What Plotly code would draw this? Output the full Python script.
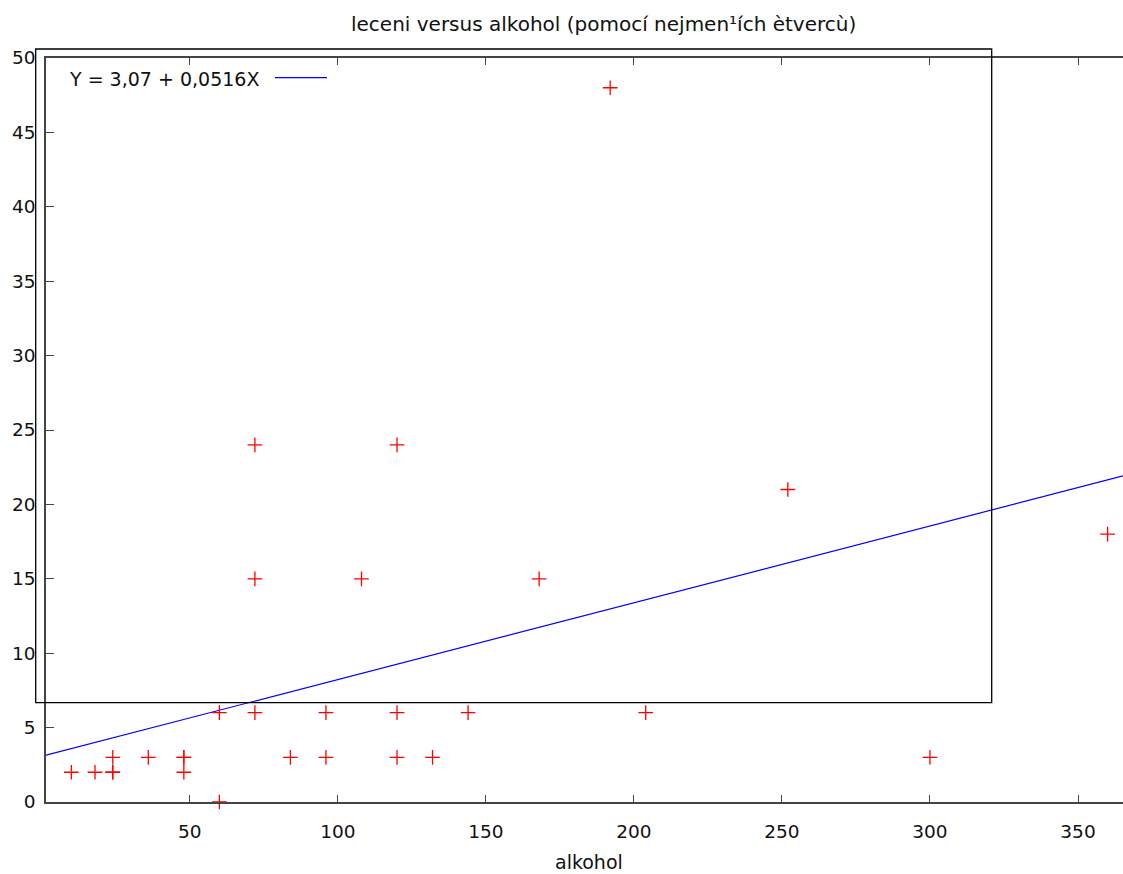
import plotly.graph_objects as go

# data
alkohol = [10, 18, 24, 24, 24, 36, 48, 48, 48, 60, 60, 72, 72, 72, 84, 96, 96,
           108, 120, 120, 120, 132, 144, 168, 192, 204, 252, 300, 360]
leceni = [2, 2, 2, 2, 3, 3, 3, 3, 2, 6, 0, 24, 15, 6, 3, 6, 3,
          15, 24, 6, 3, 3, 6, 15, 48, 6, 21, 3, 18]
intercept = 3.07
slope = 0.0516
x_ticks = [50, 100, 150, 200, 250, 300, 350]
y_ticks = [0, 5, 10, 15, 20, 25, 30, 35, 40, 45, 50]
title_text = "leceni versus alkohol (pomocí nejmen¹ích ètvercù)"
x_title = "alkohol"
fit_label = "Y = 3,07 + 0,0516X"

x_range = [1.45, 365.2]
y_range = [0, 50]

W, H = 1123, 874
L, R, T, B = 46, 0, 58, 874 - 802
pw, ph = W - L - R, H - T - B

def px(x):
    return (x - L) / pw

def py(y):
    return (H - B - y) / ph

FONT = "DejaVu Sans"

fig = go.Figure()
fig.add_trace(go.Scatter(
    x=x_range, y=[intercept + slope * v for v in x_range],
    mode="lines", line=dict(color="#0000ff", width=1.2),
    showlegend=False, hoverinfo="skip"))
fig.add_trace(go.Scatter(
    x=alkohol, y=leceni, mode="markers",
    marker=dict(symbol="cross-thin-open", size=10.5,
                line=dict(color="#ff0000", width=1.3), color="#ff0000"),
    showlegend=False, cliponaxis=False))

axis_common = dict(
    showgrid=False, zeroline=False, showline=True, linecolor="#444",
    linewidth=1.5, ticks="inside", tickcolor="#444", tickwidth=1.2,
    tickfont=dict(family=FONT, size=18.5, color="#111"),
)
fig.update_xaxes(range=x_range, tickvals=x_ticks, ticklen=7, mirror="ticks",
                 ticklabelstandoff=12, **axis_common)
fig.update_yaxes(range=y_range, tickvals=y_ticks, ticklen=8, mirror=False,
                 ticklabelstandoff=5, **axis_common)

shapes = [
    dict(type="rect", xref="paper", yref="paper",
         x0=px(35.7), x1=px(991.7), y0=py(702.7), y1=py(49),
         line=dict(color="#000", width=1.3), fillcolor="rgba(0,0,0,0)"),
    dict(type="line", xref="paper", yref="paper",
         x0=px(275), x1=px(327), y0=py(77.7), y1=py(77.7),
         line=dict(color="#0000ff", width=1.2)),
]
annotations = [
    dict(text=title_text, xref="paper", yref="paper", x=px(603.5), y=py(24),
         showarrow=False, xanchor="center", yanchor="middle",
         font=dict(family=FONT, size=20, color="#111")),
    dict(text=fit_label, xref="paper", yref="paper", x=px(67), y=py(79),
         showarrow=False, xanchor="left", yanchor="middle",
         font=dict(family=FONT, size=19, color="#111")),
    dict(text=x_title, xref="paper", yref="paper", x=px(589), y=py(862),
         showarrow=False, xanchor="center", yanchor="middle",
         font=dict(family=FONT, size=19, color="#111")),
]

fig.update_layout(
    width=W, height=H,
    margin=dict(l=L, r=R, t=T, b=B, pad=0),
    paper_bgcolor="white", plot_bgcolor="white",
    shapes=shapes, annotations=annotations, showlegend=False,
)

fig.write_html(
    "out.html",
    config={"displayModeBar": False},
    post_script="document.body.style.margin='0';"
                "document.body.style.overflow='hidden';",
)
